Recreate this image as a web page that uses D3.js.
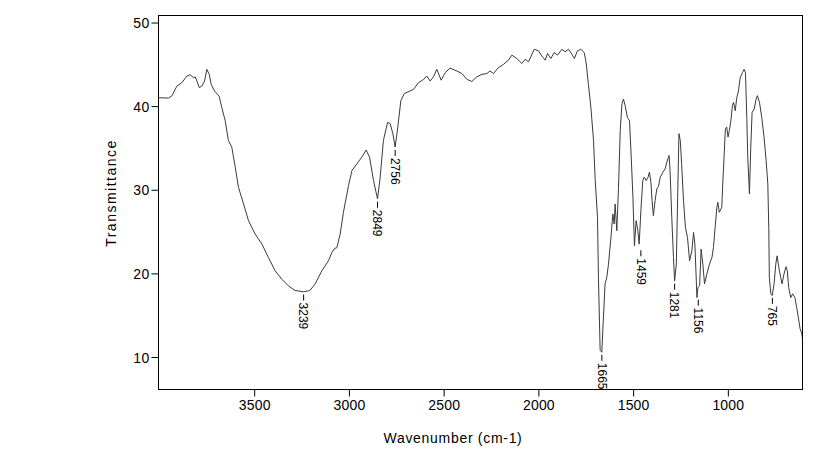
<!DOCTYPE html>
<html>
<head>
<meta charset="utf-8">
<script src="https://cdn.jsdelivr.net/npm/d3@7/dist/d3.min.js"></script>
<style>
  html, body { margin: 0; padding: 0; background: #fff; }
  svg { display: block; }
  text { font-family: "Liberation Sans", Arial, sans-serif; fill: #000; }
</style>
</head>
<body>
<svg id="chart" width="833" height="469"></svg>
<script>
// ---- data ----
const wavenumbers = [
  4005, 3952, 3934, 3908, 3882, 3855, 3838, 3820, 3811, 3802, 3790, 3776, 3762, 3750, 3737, 3727,
  3709, 3685, 3671, 3653, 3636, 3618, 3600, 3583, 3556, 3530, 3495, 3459, 3425, 3389, 3354, 3319,
  3284, 3239, 3215, 3204, 3178, 3143, 3108, 3090, 3075, 3064, 3046, 3029, 3002, 2984, 2958, 2932,
  2909, 2891, 2870, 2849, 2835, 2818, 2796, 2782, 2768, 2756, 2742, 2726, 2708, 2659, 2633, 2606,
  2589, 2571, 2554, 2536, 2513, 2492, 2466, 2430, 2404, 2377, 2351, 2325, 2298, 2272, 2255, 2237,
  2211, 2184, 2158, 2140, 2114, 2087, 2070, 2052, 2022, 1999, 1982, 1964, 1952, 1934, 1917, 1899,
  1876, 1859, 1841, 1823, 1810, 1794, 1776, 1758, 1748, 1736, 1723, 1709, 1700, 1688, 1683, 1674,
  1665, 1660, 1648, 1639, 1630, 1617, 1607, 1600, 1595, 1586, 1577, 1568, 1559, 1551, 1542, 1530,
  1519, 1510, 1501, 1493, 1484, 1475, 1468, 1459, 1449, 1442, 1431, 1421, 1414, 1406, 1400, 1393,
  1384, 1375, 1366, 1357, 1343, 1331, 1322, 1310, 1305, 1296, 1287, 1281, 1272, 1265, 1258, 1251,
  1244, 1234, 1224, 1213, 1202, 1190, 1181, 1174, 1163, 1158, 1149, 1141, 1132, 1123, 1111, 1097,
  1084, 1076, 1067, 1058, 1053, 1045, 1032, 1027, 1020, 1013, 1006, 999, 992, 984, 976, 970,
  961, 953, 944, 935, 923, 914, 907, 900, 895, 886, 879, 872, 861, 851, 844, 833,
  821, 809, 798, 789, 784, 781, 773, 766, 756, 747, 740, 731, 721, 714, 704, 693,
  686, 679, 668, 658, 646, 637, 628, 619, 610, 606
];
const transmittance = [
  41.0, 40.97, 41.24, 42.4, 42.8, 43.6, 43.75, 43.4, 43.5, 43.0, 42.2, 42.4, 43.0, 44.4, 43.8, 42.6,
  41.8, 41.2, 39.85, 38.25, 35.9, 35.07, 32.7, 30.3, 28.3, 26.3, 24.7, 23.5, 21.9, 20.3, 19.3, 18.5,
  17.95, 17.8, 17.9, 18.0, 18.75, 20.3, 21.5, 22.5, 23.0, 23.05, 24.7, 27.3, 30.5, 32.3, 33.1, 33.9,
  34.75, 33.9, 31.1, 28.9, 31.5, 35.9, 38.05, 37.9, 36.7, 35.1, 37.5, 40.65, 41.5, 42.0, 42.8, 43.2,
  43.6, 43.0, 43.5, 44.4, 43.1, 44.0, 44.55, 44.2, 43.9, 43.2, 42.95, 43.5, 43.8, 43.9, 44.2, 43.9,
  44.6, 45.0, 45.5, 46.1, 45.7, 45.1, 45.6, 45.3, 46.8, 46.6, 46.0, 45.5, 46.3, 45.7, 46.4, 46.1,
  46.8, 46.5, 46.8, 46.2, 45.7, 46.6, 46.8, 46.4, 45.2, 42.6, 39.85, 35.9, 31.1, 26.7, 19.5, 10.8,
  10.57, 13.2, 18.75, 19.5, 21.1, 24.3, 27.1, 25.9, 28.3, 25.1, 30.3, 37.1, 40.25, 40.85, 40.05, 38.65,
  38.25, 33.9, 29.1, 23.3, 26.3, 25.1, 23.5, 27.5, 31.1, 31.5, 31.1, 31.5, 32.1, 30.9, 28.7, 26.9,
  28.7, 30.1, 30.4, 31.5, 32.1, 32.5, 33.3, 34.1, 32.3, 26.7, 21.9, 19.1, 21.1, 29.1, 36.7, 35.9,
  33.1, 28.7, 25.5, 24.3, 21.5, 22.7, 24.9, 23.5, 17.1, 18.3, 18.5, 22.9, 21.1, 18.75, 19.9, 21.1,
  21.9, 23.1, 25.5, 27.9, 28.5, 27.3, 27.9, 30.7, 33.9, 37.3, 37.5, 36.3, 37.1, 38.25, 40.05, 40.45,
  39.45, 41.0, 41.8, 43.4, 44.0, 44.4, 44.0, 38.65, 33.9, 29.5, 35.1, 39.25, 39.65, 40.85, 41.25, 40.45,
  38.65, 36.3, 33.5, 30.7, 25.5, 19.5, 17.55, 17.35, 18.75, 21.1, 22.1, 20.7, 19.5, 18.75, 19.9, 20.8,
  20.3, 18.3, 17.1, 17.55, 17.1, 15.95, 14.75, 13.4, 12.8, 12.2
];
const peakLabels = ["3239", "2849", "2756", "1665", "1459", "1281", "1156", "765"];
const peakWavenumbers = [3239, 2849, 2756, 1665, 1459, 1281, 1156, 765];
const peakTransmittance = [17.7, 28.8, 35.0, 10.5, 23.0, 19.0, 17.1, 17.3];
const xTicks = [3500, 3000, 2500, 2000, 1500, 1000];
const yTicks = [10, 20, 30, 40, 50];
const xTitle = "Wavenumber (cm-1)";
const yTitle = "Transmittance";

// ---- layout ----
const plotLeft = 158.5, plotRight = 802.5, plotTop = 15.5, plotBottom = 389.5;
const svg = d3.select("#chart");

const x = d3.scaleLinear().domain([4005, 606]).range([plotLeft, plotRight]);
const y = d3.scaleLinear().domain([6.11, 50.84]).range([plotBottom, plotTop]);

// axes
const xAxis = d3.axisBottom(x).tickValues(xTicks).tickSize(7).tickPadding(3).tickFormat(d3.format("d"));
const yAxis = d3.axisLeft(y).tickValues(yTicks).tickSize(7).tickPadding(2).tickFormat(d3.format("d"));

const gx = svg.append("g").attr("transform", `translate(0,${plotBottom})`).call(xAxis);
const gy = svg.append("g").attr("transform", `translate(${plotLeft},0)`).call(yAxis);
[gx, gy].forEach(g => {
  g.select(".domain").remove();
  g.selectAll(".tick line").attr("stroke", "#000").attr("stroke-width", 1);
  g.selectAll(".tick text")
    .attr("font-family", '"Liberation Sans", Arial, sans-serif')
    .attr("font-size", 14)
    .attr("fill", "#000");
});
gx.selectAll(".tick text").attr("dy", "0.72em").style("letter-spacing", "0.2px");
gy.selectAll(".tick text").attr("dy", "0.36em").style("letter-spacing", "0.3px");

// spectrum
const pts = wavenumbers.map((w, i) => [w, transmittance[i]]);
svg.append("defs").append("clipPath").attr("id", "plotclip")
  .append("rect").attr("x", plotLeft).attr("y", plotTop)
  .attr("width", plotRight - plotLeft).attr("height", plotBottom - plotTop);

svg.append("path")
  .datum(pts)
  .attr("clip-path", "url(#plotclip)")
  .attr("fill", "none")
  .attr("stroke", "#3a3a3a")
  .attr("stroke-width", 1)
  .attr("stroke-linejoin", "round")
  .attr("d", d3.line().x(d => x(d[0])).y(d => y(d[1])));

// frame
svg.append("rect")
  .attr("x", plotLeft).attr("y", plotTop)
  .attr("width", plotRight - plotLeft).attr("height", plotBottom - plotTop)
  .attr("fill", "none").attr("stroke", "#000").attr("stroke-width", 1);

// peak labels
const lg = svg.append("g");
peakLabels.forEach((lab, i) => {
  const px = x(peakWavenumbers[i]);
  const py = y(peakTransmittance[i]);
  lg.append("line")
    .attr("x1", px).attr("x2", px)
    .attr("y1", py + 2).attr("y2", py + 8)
    .attr("stroke", "#000").attr("stroke-width", 1);
  lg.append("text")
    .attr("transform", `translate(${px},${py + 10}) rotate(90)`)
    .attr("dy", "0.35em")
    .attr("font-size", 12)
    .text(lab);
});

// axis titles
svg.append("text")
  .attr("x", 453).attr("y", 443)
  .attr("text-anchor", "middle")
  .attr("font-size", 14)
  .style("letter-spacing", "0.7px")
  .text(xTitle);

svg.append("text")
  .attr("transform", `translate(116,193) rotate(-90)`)
  .attr("text-anchor", "middle")
  .attr("font-size", 14)
  .style("letter-spacing", "1.5px")
  .text(yTitle);
</script>
</body>
</html>
